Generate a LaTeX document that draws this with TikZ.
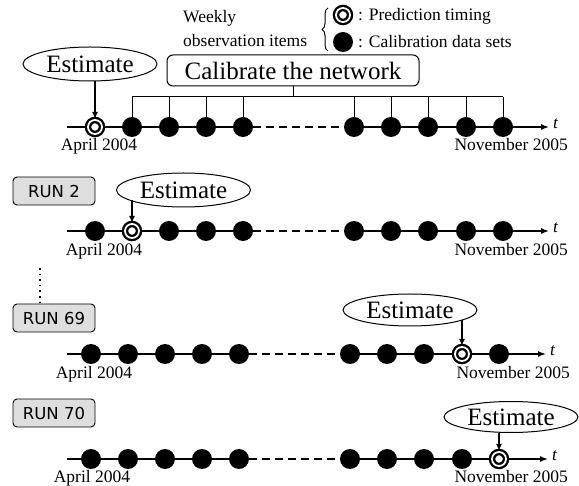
\documentclass[tikz,border=0pt]{standalone}
\usepackage{fontspec}
\setmainfont{Liberation Serif}
\newfontfamily\runfont{DejaVu Sans}
\usetikzlibrary{shapes.geometric,arrows.meta,decorations.pathreplacing}
\pgfdeclarelayer{bg}
\pgfsetlayers{bg,main}
\newcommand{\bigtxt}{\fontsize{25}{30}\selectfont}
\newcommand{\legtxt}{\fontsize{17.5}{21}\selectfont}
\newcommand{\datetxt}{\fontsize{17.5}{21}\selectfont}
\tikzset{
  dotnode/.style={circle,fill=black,inner sep=0pt,minimum size=20pt},
  prednode/.style={circle,draw=black,fill=white,double=white,line width=2.3pt,double distance=1.8pt,inner sep=0pt,minimum size=14pt},
  estnode/.style={ellipse,draw,line width=1pt,inner sep=0pt,minimum width=134pt,minimum height=34pt,font=\bigtxt},
  runbox/.style={draw,rounded corners=4pt,fill=black!13,line width=0.9pt,minimum width=82pt,minimum height=28pt,inner sep=0pt,font=\runfont\fontsize{16.5}{19}\selectfont},
  axisline/.style={line width=1.4pt},
  axisarrow/.style={line width=1.4pt,-{Latex[length=8pt,width=6pt]}},
  gapline/.style={line width=1.4pt,dash pattern=on 8pt off 5pt},
  estarrow/.style={line width=1.3pt,-{Latex[length=7pt,width=6pt]}},
  thinline/.style={line width=1pt},
  datelabel/.style={font=\datetxt,inner sep=0pt},
  tlabel/.style={font=\datetxt\itshape,inner sep=0pt,anchor=west}
}
\begin{document}
\begin{tikzpicture}[x=1pt,y=-1pt]
\useasboundingbox (0,0) rectangle (579,486);

% ---------- legend ----------
\node[anchor=base west,inner sep=0pt,font=\legtxt] (weekly) at (183,23) {Weekly};
\node[anchor=base west,inner sep=0pt,font=\legtxt] (obs) at (183,47) {observation items};
\coordinate (brb) at (328,51);
\coordinate (brt) at (328,8);
\draw[decorate,decoration={brace,amplitude=6pt},line width=1pt] (brb) -- (brt);
\node[prednode] (legp) at (343,15) {};
\node[dotnode] (legd) at (343,42) {};
\node[anchor=base west,inner sep=0pt,font=\legtxt] (legpt) at (358,21) {: Prediction timing};
\node[anchor=base west,inner sep=0pt,font=\legtxt] (legdt) at (358,48) {: Calibration data sets};

% ---------- row 1 ----------
\node[prednode] (r1p) at (95,127) {};
\foreach \x [count=\i from 2] in {132,169,206,243,354,391,428,466,503}
  \node[dotnode] (r1d\i) at (\x,127) {};
\coordinate (r1s) at (67,127);
\coordinate (r1e) at (549,127);
\begin{pgfonlayer}{bg}
  \draw[axisline] (r1s) -- (r1d5.center);
  \draw[gapline] (r1d5.east) -- (r1d6.west);
  \draw[axisarrow] (r1d6.center) -- (r1e);
\end{pgfonlayer}
\node[tlabel] (r1t) at (553,124) {t};
\node[estnode] (e1) at (90,64) {Estimate};
\draw[estarrow] (e1.south -| r1p) -- (r1p);
\node[draw,rounded corners=6pt,line width=1pt,minimum width=252pt,minimum height=31pt,inner sep=0pt,font=\bigtxt] (cal) at (293,70.5) {Calibrate the network};
\coordinate (bry) at (293,97);
\draw[thinline] (cal.south) -- (bry);
\draw[thinline] (bry -| r1d2) -- (bry -| r1d10);
\foreach \i in {2,...,10}
  \draw[thinline] (bry -| r1d\i) -- (r1d\i);
\node[datelabel,anchor=base] (r1a) at (99,151) {April 2004};
\node[datelabel,anchor=base east] (r1n) at (568,151) {November 2005};

% ---------- row 2 ----------
\node[dotnode] (r2d1) at (95,231) {};
\node[prednode] (r2p) at (132,231) {};
\foreach \x [count=\i from 3] in {169,206,243,354,391,428,466,503}
  \node[dotnode] (r2d\i) at (\x,231) {};
\coordinate (r2s) at (67,231);
\coordinate (r2e) at (549,231);
\begin{pgfonlayer}{bg}
  \draw[axisline] (r2s) -- (r2d5.center);
  \draw[gapline] (r2d5.east) -- (r2d6.west);
  \draw[axisarrow] (r2d6.center) -- (r2e);
\end{pgfonlayer}
\node[tlabel] (r2t) at (553,228) {t};
\node[estnode] (e2) at (183.5,190) {Estimate};
\draw[estarrow] (e2.191 -| r2p) -- (r2p);
\node[runbox] (run2) at (54,191) {RUN 2};
\node[datelabel,anchor=base] (r2a) at (104,256) {April 2004};
\node[datelabel,anchor=base east] (r2n) at (568,256) {November 2005};

% ---------- row 3 ----------
\foreach \x [count=\i] in {91,128,165,202,239,350,387,424}
  \node[dotnode] (r3d\i) at (\x,354) {};
\node[prednode] (r3p) at (462,354) {};
\node[dotnode] (r3d10) at (499,354) {};
\coordinate (r3s) at (67,354);
\coordinate (r3e) at (546,354);
\begin{pgfonlayer}{bg}
  \draw[axisline] (r3s) -- (r3d5.center);
  \draw[gapline] (r3d5.east) -- (r3d6.west);
  \draw[axisarrow] (r3d6.center) -- (r3e);
\end{pgfonlayer}
\node[tlabel] (r3t) at (550,351) {t};
\node[estnode,minimum height=32pt] (e3) at (410,310) {Estimate};
\draw[estarrow] (e3.349 -| r3p) -- (r3p);
\node[runbox] (run69) at (54,318) {RUN 69};
\coordinate (dtop) at (40,268);
\draw[line width=1.6pt,dash pattern=on 1.6pt off 4pt] (dtop) -- (dtop |- run69.north);
\node[datelabel,anchor=base] (r3a) at (94,379) {April 2004};
\node[datelabel,anchor=base east] (r3n) at (570,379) {November 2005};

% ---------- row 4 ----------
\foreach \x [count=\i] in {91,128,165,202,239,350,387,424,462}
  \node[dotnode] (r4d\i) at (\x,459) {};
\node[prednode] (r4p) at (499,459) {};
\coordinate (r4s) at (67,459);
\coordinate (r4e) at (548,459);
\begin{pgfonlayer}{bg}
  \draw[axisline] (r4s) -- (r4d5.center);
  \draw[gapline] (r4d5.east) -- (r4d6.west);
  \draw[axisarrow] (r4d6.center) -- (r4e);
\end{pgfonlayer}
\node[tlabel] (r4t) at (552,456) {t};
\node[estnode,minimum height=31pt] (e4) at (511,417) {Estimate};
\draw[estarrow] (e4.south -| r4p) -- (r4p);
\node[runbox] (run70) at (54,413) {RUN 70};
\node[datelabel,anchor=base] (r4a) at (92,483) {April 2004};
\node[datelabel,anchor=base east] (r4n) at (568,483) {November 2005};
\end{tikzpicture}
\end{document}
